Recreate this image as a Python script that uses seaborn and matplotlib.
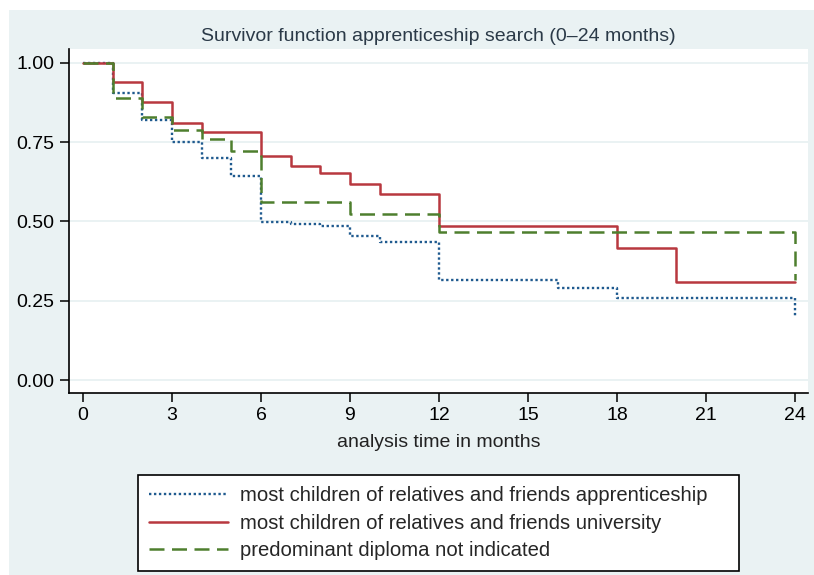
import numpy as np
import pandas as pd
import matplotlib
matplotlib.use("Agg")
import matplotlib.pyplot as plt
from matplotlib.patches import Rectangle
import seaborn as sns

# ==========================================
# DATA (Kaplan-Meier steps)
# ==========================================
labels = [
    "most children of relatives and friends apprenticeship",
    "most children of relatives and friends university",
    "predominant diploma not indicated",
]

months_app = [0, 1, 2, 3, 4, 5, 6, 7, 8, 9, 10, 12, 16, 18, 24]
surv_app = [1.0, 0.906, 0.820, 0.752, 0.699, 0.644, 0.497, 0.491, 0.486,
            0.454, 0.434, 0.315, 0.291, 0.260, 0.202]

months_uni = [0, 1, 2, 3, 4, 6, 7, 8, 9, 10, 12, 18, 20, 24]
surv_uni = [1.0, 0.941, 0.876, 0.810, 0.783, 0.708, 0.676, 0.652, 0.618,
            0.586, 0.486, 0.415, 0.308, 0.308]

months_na = [0, 1, 2, 3, 4, 5, 6, 9, 12, 24]
surv_na = [1.0, 0.891, 0.831, 0.789, 0.760, 0.722, 0.562, 0.524, 0.466, 0.315]

x_ticks = [0, 3, 6, 9, 12, 15, 18, 21, 24]
y_ticks = [0.0, 0.25, 0.5, 0.75, 1.0]

# ==========================================
# STYLE
# ==========================================
sns.set_theme(style="white")
plt.rcParams['font.family'] = ['Liberation Sans', 'DejaVu Sans']

bg = "#EAF2F3"
colors = ["#1f5a8f", "#b8383f", "#4e7f2e"]
styles = [(0, (1, 1.1)), "-", (0, (6, 3))]
widths = [1.7, 1.8, 1.8]

fig = plt.figure(figsize=(8.14, 5.75), dpi=100, facecolor="white")
fig.patches.append(Rectangle((9 / 814, 0), 1, 1 - 10 / 575,
                             transform=fig.transFigure, facecolor=bg,
                             edgecolor="none", zorder=-10))
ax = fig.add_axes([69 / 814, 1 - 393 / 575, (808 - 69) / 814, (393 - 49) / 575])
ax.set_facecolor("white")

series = [(months_app, surv_app), (months_uni, surv_uni), (months_na, surv_na)]
for (m, s), lab, c, ls, lw in zip(series, labels, colors, styles, widths):
    df = pd.DataFrame({"month": m, "surv": s})
    sns.lineplot(data=df, x="month", y="surv", ax=ax, color=c, linestyle=ls,
                 linewidth=lw, drawstyle="steps-post", estimator=None,
                 sort=False, label=lab)

# grid
for yv in y_ticks:
    ax.axhline(yv, color=bg, linewidth=1.4, zorder=0)

ax.set_xlim(-0.47, 24.44)
ax.set_ylim(-0.041, 1.044)
ax.set_xticks(x_ticks)
ax.set_yticks(y_ticks)
ax.set_yticklabels([f"{v:.2f}" for v in y_ticks])
ax.tick_params(axis="both", direction="out", length=6.3, width=1.1, color="black",
               labelsize=14, labelcolor="black", pad=4,
               bottom=True, left=True)

for side in ["top", "right"]:
    ax.spines[side].set_visible(False)
for side in ["left", "bottom"]:
    ax.spines[side].set_color("black")
    ax.spines[side].set_linewidth(1.2)

ax.set_xlabel("analysis time in months", fontsize=14, color="#222222", labelpad=7)
ax.set_ylabel("")
ax.set_title("Survivor function apprenticeship search (0\u201324 months)",
             fontsize=14, color="#2b3a48", pad=6)

ax.get_legend().remove()
handles, labs = ax.get_legend_handles_labels()
leg = fig.legend(handles, labs, loc="upper left", mode="expand",
                 bbox_to_anchor=(138 / 814, 1 - 571 / 575, 601 / 814, 96 / 575),
                 ncol=1, fontsize=14.6, frameon=True, fancybox=False,
                 handlelength=3.9, labelspacing=0.42, borderpad=0.55,
                 handletextpad=0.6, borderaxespad=0, framealpha=1)
leg.get_frame().set_edgecolor("black")
leg.get_frame().set_linewidth(1.2)
leg.get_frame().set_facecolor("white")

fig.savefig("out.png", dpi=100, facecolor=fig.get_facecolor())
